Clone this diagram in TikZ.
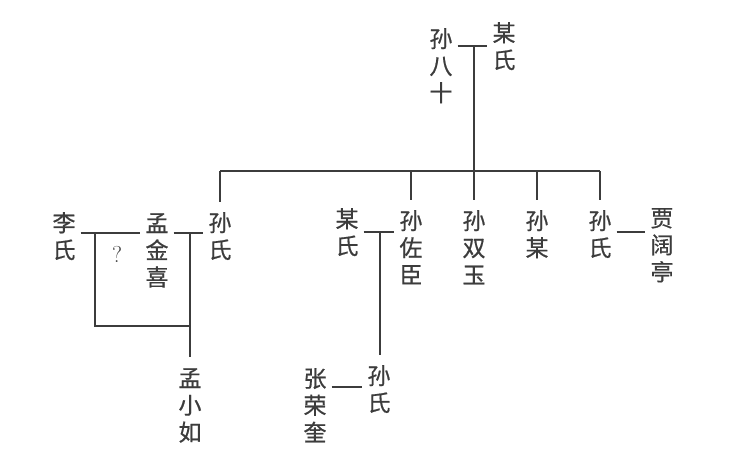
\documentclass[tikz,border=0pt]{standalone}
\usepackage{fontspec}
\newfontfamily\cjk[FakeBold=0.6]{Noto Sans CJK SC}
\definecolor{ink}{HTML}{3C3C3C}
\tikzset{
  person/.style={font=\cjk\fontsize{23}{27}\selectfont, align=center, text=ink,
    inner xsep=5pt, inner ysep=0pt, anchor=north},
  link/.style={draw=ink, line width=1.1pt},
  drop/.style={link, shorten >=10pt}
}
\begin{document}
\begin{tikzpicture}[x=1pt,y=-1pt]
\useasboundingbox (0,0) rectangle (735,459);
% people
\node[person] (sbs) at (441,28) {孙\\八\\十};
\node[person] (ms1) at (504,22) {某\\氏};
\node[person] (ls)  at (64,212) {李\\氏};
\node[person] (mjx) at (157,213) {孟\\金\\喜};
\node[person] (ssl) at (220,212) {孙\\氏};
\node[person] (ms2) at (347,208) {某\\氏};
\node[person] (szc) at (411,210) {孙\\佐\\臣};
\node[person] (ssy) at (474,210) {孙\\双\\玉};
\node[person] (smo) at (537,210) {孙\\某};
\node[person] (ssr) at (600,210) {孙\\氏};
\node[person] (jkt) at (662,208) {贾\\阔\\亭};
\node[person] (mxr) at (190,368) {孟\\小\\如};
\node[person] (ssb) at (379,365) {孙\\氏};
\node[person] (zrk) at (315,368) {张\\荣\\奎};
\node[text=ink, font=\fontsize{23}{23}\selectfont, inner sep=0pt] (q) at (117,254) {?};
% junctions
\coordinate (m0) at (474,46);
\coordinate (bar) at (474,171);
\coordinate (jL) at (95,233);
\coordinate (jR) at (190,233);
\coordinate (jB) at (95,326);
\coordinate (jM) at (380,232);
\coordinate (jZ) at (380,387);
% top couple
\draw[link] (sbs.east |- m0) -- (ms1.west |- m0);
\draw[link] (m0) -- (bar);
\draw[link] (ssl.north |- bar) -- (ssr.north |- bar);
\foreach \c in {ssl,szc,ssy,smo,ssr}
  \draw[drop] (\c.north |- bar) -- (\c.north);
% left family
\draw[link] (ls.east |- jL) -- (mjx.west |- jL);
\draw[link] (mjx.east |- jR) -- (ssl.west |- jR);
\draw[link] (jL) -- (jB) -- (jB -| jR);
\draw[drop, shorten >=11pt] (jR) -- (mxr.north);
% middle family
\draw[link] (ms2.east |- jM) -- (szc.west |- jM);
\draw[drop] (jM) -- (ssb.north -| jM);
% bottom couple
\draw[link] (zrk.east |- jZ) -- (ssb.west |- jZ);
% right couple
\draw[link] (ssr.east |- jM) -- (jkt.west |- jM);
\end{tikzpicture}
\end{document}
